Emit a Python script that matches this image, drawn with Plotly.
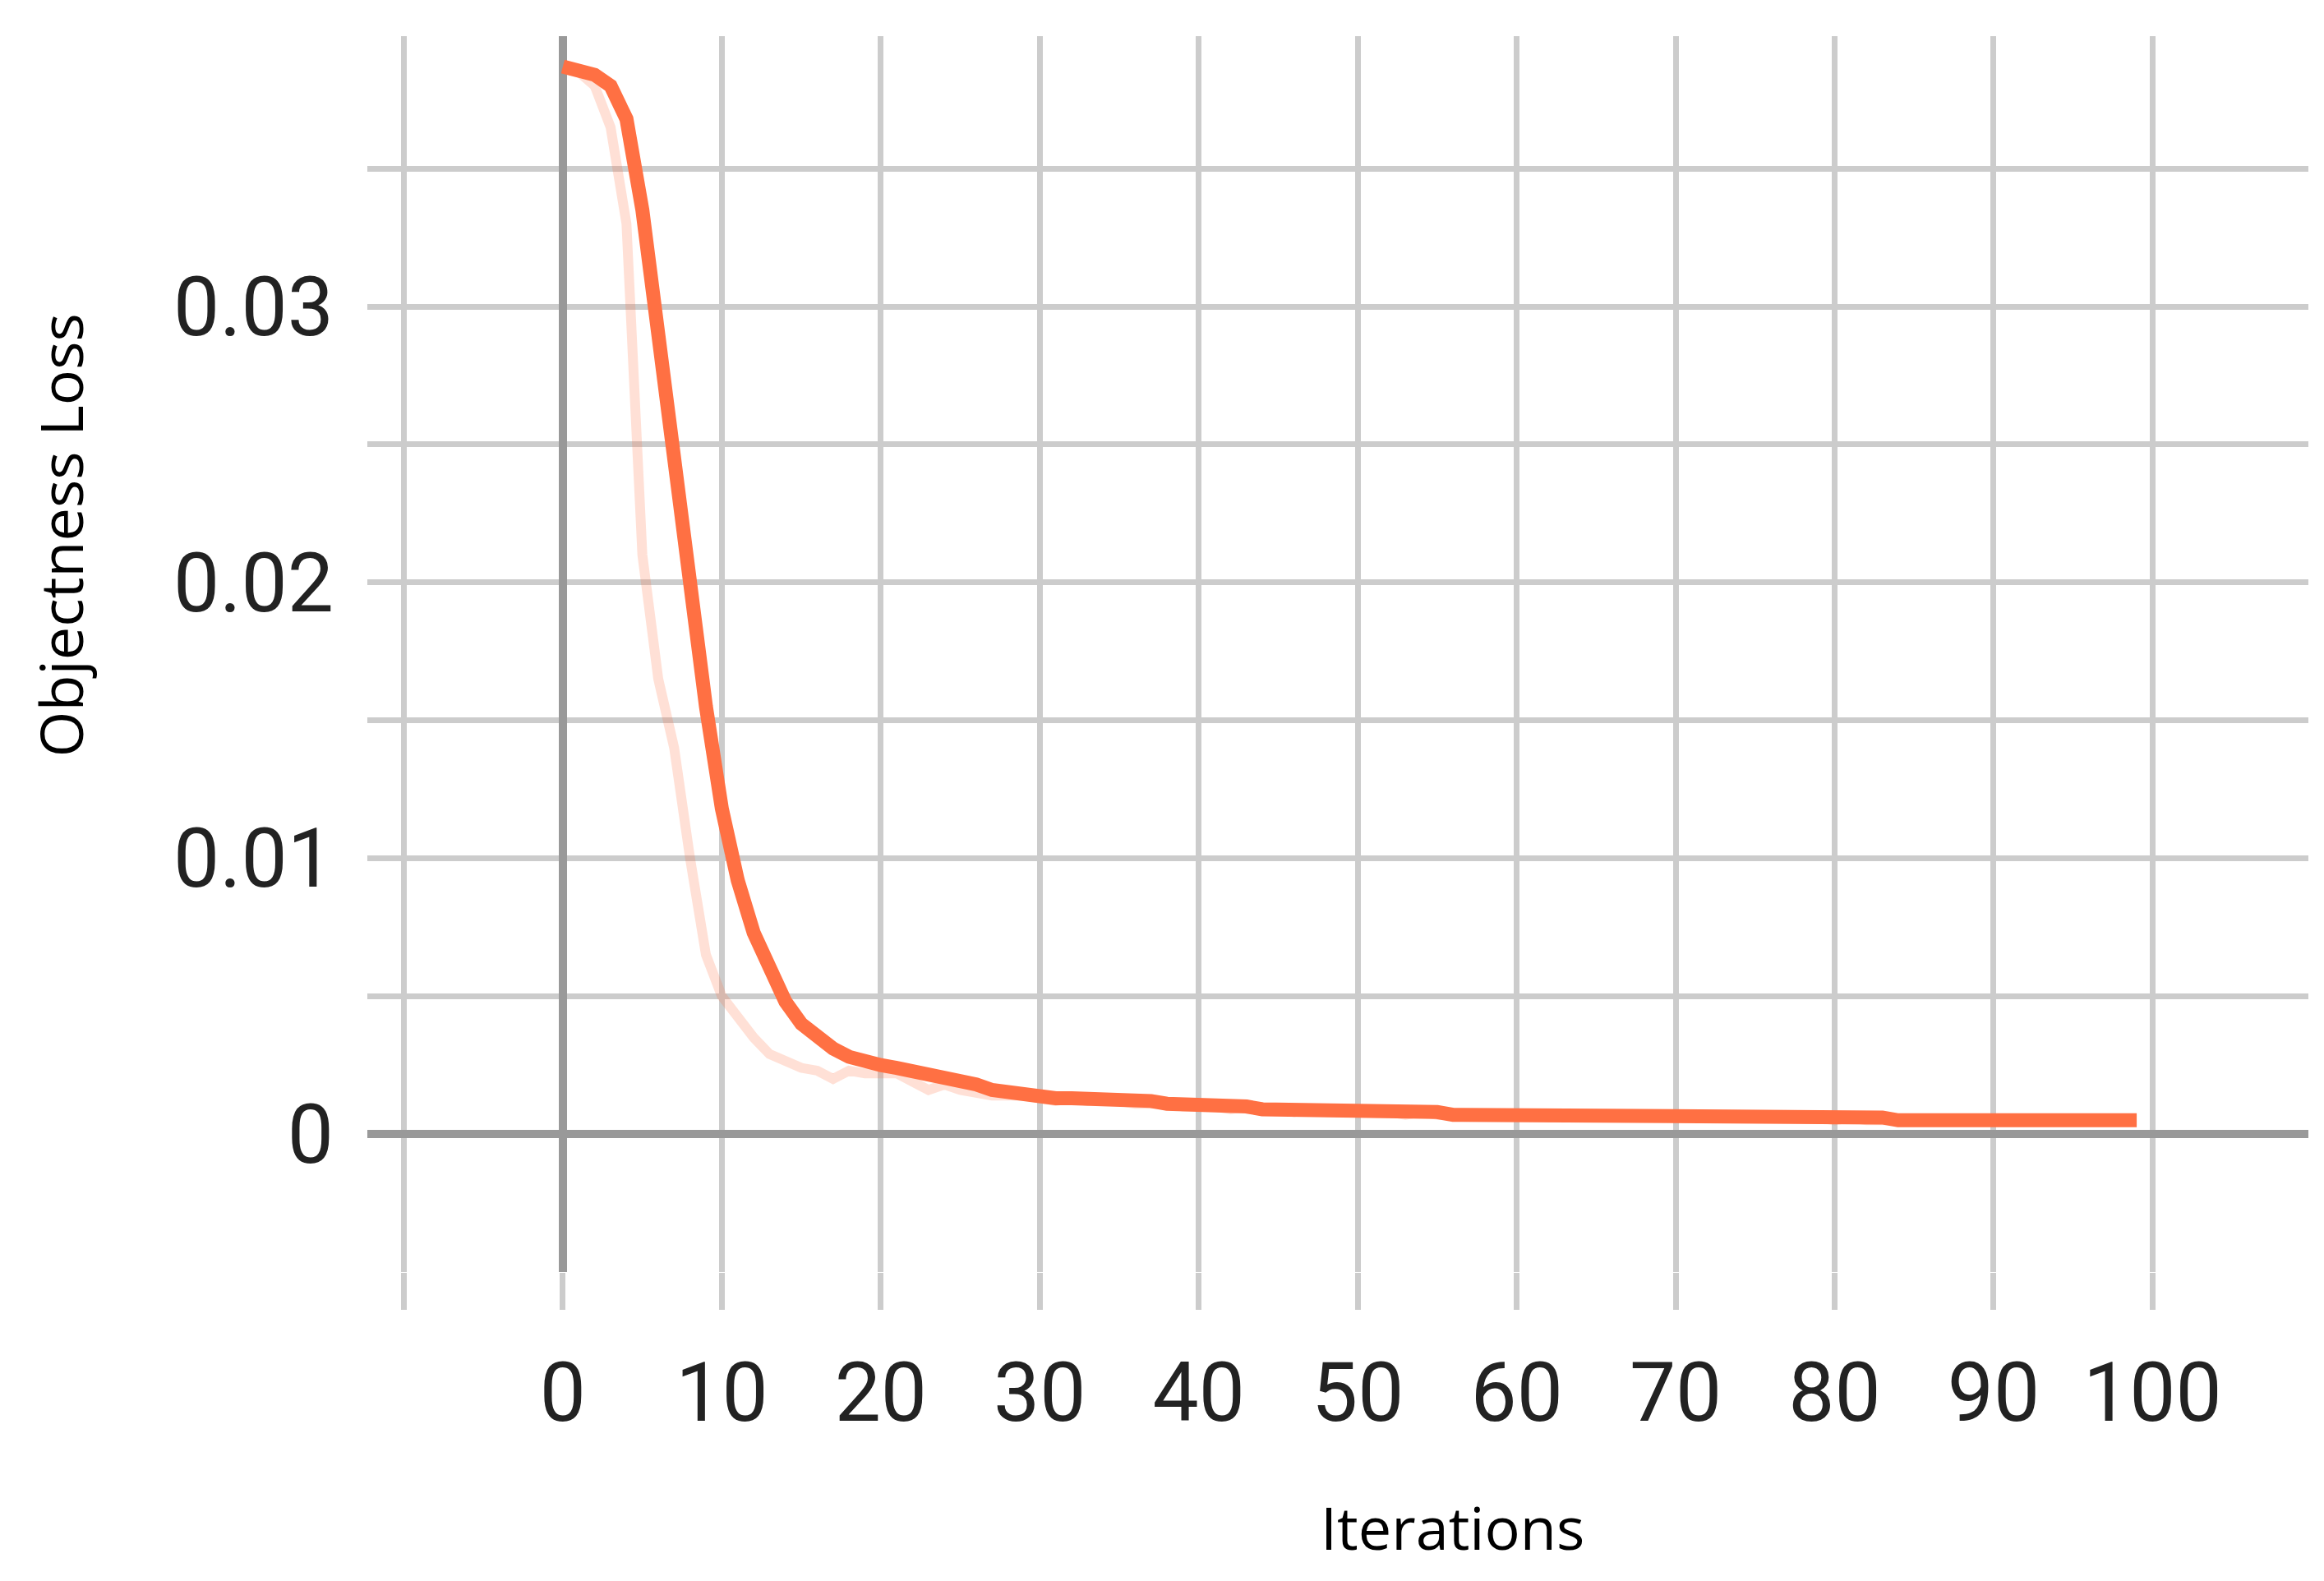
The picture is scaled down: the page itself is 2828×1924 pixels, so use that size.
import plotly.graph_objects as go

iters = list(range(0, 100))
smoothed = [0.0387,0.0386,0.0384,0.0380,0.0368,0.0335,0.0290,0.0240,0.0195,0.0155,
            0.0118,0.0092,0.0073,0.0059,0.0048,0.0040,0.0035,0.0031,0.0028,0.0026,
            0.0025,0.0024,0.0023,0.0021,0.0020,0.0019,0.0018,0.0016,0.0015,0.0015,
            0.0014,0.0013,0.0013,0.0013,0.0013,0.0012,0.0012,0.0012,0.0011,0.0011,
            0.0010,0.0010,0.0010,0.0010,0.0009,0.0009,0.0009,0.0009,0.0009,0.0008,
            0.0008,0.0008,0.0008,0.0008,0.0008,0.0008,0.0007,0.0007,0.0007,0.0007,
            0.0007,0.0007,0.0007,0.0007,0.0007,0.0006,0.0006,0.0006,0.0006,0.0006,
            0.0006,0.0006,0.0006,0.0006,0.0006,0.0006,0.0006,0.0006,0.0006,0.0006,
            0.0006,0.0006,0.0006,0.0006,0.0005,0.0005,0.0005,0.0005,0.0005,0.0005,
            0.0005,0.0005,0.0005,0.0005,0.0005,0.0005,0.0005,0.0005,0.0005,0.0005]
raw = [0.0387,0.0385,0.0380,0.0365,0.0330,0.0210,0.0165,0.0140,0.0100,0.0065,
       0.0050,0.0042,0.0035,0.0029,0.0026,0.0024,0.0023,0.0020,0.0023,0.0022,
       0.0022,0.0022,0.0019,0.0016,0.0018,0.0016,0.0015,0.0014,0.0014,0.0014,
       0.0013,0.0012,0.0013,0.0012,0.0013,0.0012,0.0011,0.0011,0.0011,0.0010,
       0.0010,0.0010,0.0009,0.0010,0.0009,0.0009,0.0008,0.0009,0.0008,0.0008,
       0.0008,0.0008,0.0008,0.0007,0.0008,0.0007,0.0007,0.0007,0.0007,0.0007,
       0.0007,0.0007,0.0006,0.0007,0.0006,0.0006,0.0006,0.0006,0.0006,0.0006,
       0.0006,0.0006,0.0006,0.0006,0.0006,0.0006,0.0006,0.0006,0.0006,0.0006,
       0.0005,0.0006,0.0005,0.0005,0.0005,0.0005,0.0005,0.0005,0.0005,0.0005,
       0.0005,0.0005,0.0005,0.0005,0.0005,0.0005,0.0005,0.0005,0.0005,0.0005]
x_tickvals = [-10,0,10,20,30,40,50,60,70,80,90,100]
x_ticktext = ["","0","10","20","30","40","50","60","70","80","90","100"]
y_tickvals = [-0.005,0,0.005,0.01,0.015,0.02,0.025,0.03,0.035]
y_ticktext = ["","0","","0.01","","0.02","","0.03",""]

fig = go.Figure()
fig.add_trace(go.Scatter(x=iters, y=raw, mode="lines",
                         line=dict(color="rgba(255,112,67,0.22)", width=12), showlegend=False))
fig.add_trace(go.Scatter(x=iters, y=smoothed, mode="lines",
                         line=dict(color="#ff7043", width=17), showlegend=False))
fig.update_layout(
    width=2828, height=1924, paper_bgcolor="white", plot_bgcolor="white",
    margin=dict(l=439, r=27, t=36, b=384),
    font=dict(family="Roboto", color="#222"),
    xaxis=dict(range=[-12.3, 109.8], tickvals=x_tickvals, ticktext=x_ticktext,
               showgrid=True, gridcolor="#cccccc", gridwidth=7,
               zeroline=True, zerolinecolor="#999999", zerolinewidth=10,
               ticks="outside", ticklen=45, tickcolor="#cccccc", tickwidth=7,
               ticklabelstandoff=15, tickfont=dict(size=100, family="Roboto", color="#222"),
               showline=False),
    yaxis=dict(range=[-0.005, 0.0398], tickvals=y_tickvals, ticktext=y_ticktext,
               showgrid=True, gridcolor="#cccccc", gridwidth=7,
               zeroline=True, zerolinecolor="#999999", zerolinewidth=10,
               ticks="", ticklabelstandoff=40,
               tickfont=dict(size=100, family="Roboto", color="#222"), showline=False),
    annotations=[
        dict(text="Iterations", xref="paper", yref="paper", x=0.559, y=-0.24,
             showarrow=False, font=dict(size=72, family="Open Sans", color="black")),
        dict(text="Objectness Loss", xref="paper", yref="paper", x=-0.18, y=0.596,
             textangle=-90, showarrow=False,
             font=dict(size=72, family="Open Sans", color="black")),
    ],
)
fig.write_html("out.html")
